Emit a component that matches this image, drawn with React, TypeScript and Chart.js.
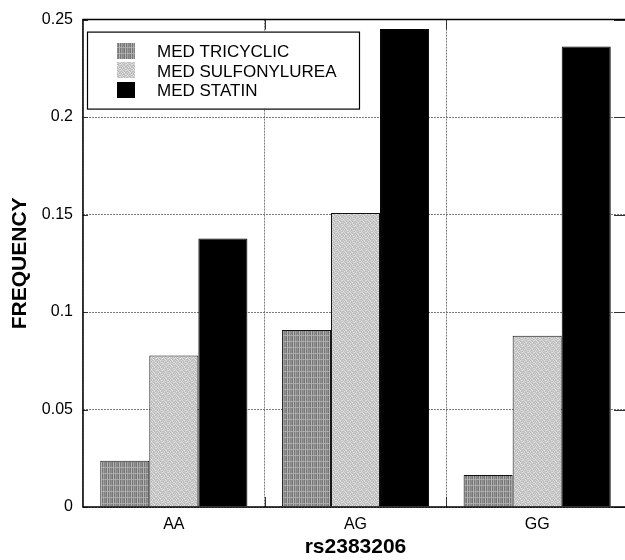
import React, { useEffect, useRef } from "react";
import { Chart, registerables } from "chart.js";

Chart.register(...registerables);

const categories = ["AA", "AG", "GG"];
const seriesLabels = ["MED TRICYCLIC", "MED SULFONYLUREA", "MED STATIN"];
const tricyclic = [0.0237, 0.0908, 0.0164];
const sulfonylurea = [0.0777, 0.1508, 0.0879];
const statin = [0.1377, 0.2452, 0.2362];
const yTickLabels = ["0", "0.05", "0.1", "0.15", "0.2", "0.25"];
const xTitle = "rs2383206";
const yTitle = "FREQUENCY";

const FONT = "'Liberation Sans', Arial, Helvetica, sans-serif";

function makePattern(colors: string[][]): CanvasPattern | string {
  const c = document.createElement("canvas");
  c.height = colors.length;
  c.width = colors[0].length;
  const ctx = c.getContext("2d");
  if (!ctx) return colors[0][0];
  for (let y = 0; y < colors.length; y++) {
    for (let x = 0; x < colors[y].length; x++) {
      ctx.fillStyle = colors[y][x];
      ctx.fillRect(x, y, 1, 1);
    }
  }
  const p = ctx.createPattern(c, "repeat");
  return p || colors[0][0];
}

export default function App() {
  const ref = useRef<HTMLCanvasElement | null>(null);

  useEffect(() => {
    if (!ref.current) return;
    const a = "#767676", b = "#a2a2a2", d = "#858585", e = "#8e8e8e", f = "#b4b4b4";
    const tricPattern = makePattern([
      [a, b, d, e, a, f],
      [a, b, d, e, a, f],
      [a, b, d, e, a, f],
      [a, b, d, e, a, f],
      [a, b, d, e, a, f],
      [b, f, b, f, b, f],
    ]);
    const g = "#c2c2c2", h = "#d6d6d6", i = "#b8b8b8", j = "#e2e2e2", k = "#cbcbcb";
    const sulfPattern = makePattern([
      [g, h, i, k, j, g],
      [k, i, j, g, h, i],
      [h, g, k, i, g, j],
      [i, j, g, h, k, g],
      [j, k, h, i, g, h],
      [g, i, k, j, i, k],
    ]);
    const fills = [tricPattern, sulfPattern, "#000000"];

    const framePlugin = {
      id: "frame",
      afterDraw(chart: any) {
        const { ctx, chartArea } = chart;
        const { left, right, top, bottom } = chartArea;
        const xs = chart.scales.x;
        const ys = chart.scales.y;
        ctx.save();
        ctx.strokeStyle = "#333";
        ctx.lineWidth = 1;
        ys.ticks.forEach((_t: any, idx: number) => {
          const y = Math.round(ys.getPixelForTick(idx)) + 0.5;
          ctx.beginPath();
          ctx.moveTo(left, y);
          ctx.lineTo(left + 5, y);
          ctx.moveTo(right - 14, y);
          ctx.lineTo(right, y);
          ctx.stroke();
        });
        for (let n = 1; n < categories.length; n++) {
          const x = Math.round((xs.getPixelForValue(n - 1) + xs.getPixelForValue(n)) / 2) + 0.5;
          ctx.beginPath();
          ctx.moveTo(x, top);
          ctx.lineTo(x, top + 10);
          ctx.moveTo(x, bottom);
          ctx.lineTo(x, bottom - 10);
          ctx.stroke();
        }
        ctx.strokeStyle = "#000";
        ctx.lineWidth = 1.5;
        ctx.beginPath();
        ctx.moveTo(right + 5, top);
        ctx.lineTo(left, top);
        ctx.lineTo(left, bottom);
        ctx.lineTo(right + 5, bottom);
        ctx.stroke();

        const bx = left + 4, by = top + 12, bw = 272, bh = 77;
        ctx.fillStyle = "#fff";
        ctx.fillRect(bx, by, bw, bh);
        ctx.strokeStyle = "#000";
        ctx.lineWidth = 1.2;
        ctx.strokeRect(bx + 0.5, by + 0.5, bw, bh);
        ctx.font = `17px ${FONT}`;
        ctx.textBaseline = "alphabetic";
        ctx.textAlign = "left";
        chart.data.datasets.forEach((ds: any, idx: number) => {
          const baseline = by + 25.7 + idx * 19.3;
          const cy = baseline - 6.3;
          ctx.fillStyle = ds.backgroundColor;
          ctx.fillRect(bx + 30, Math.round(cy - 8), 18, 16);
          ctx.fillStyle = "#000";
          ctx.fillText(ds.label, bx + 70, baseline);
        });
        ctx.restore();
      },
    };

    const chart = new Chart(ref.current, {
      type: "bar",
      data: {
        labels: categories,
        datasets: [
          { label: seriesLabels[0], data: tricyclic, backgroundColor: fills[0] as any, borderColor: "#111", borderWidth: 1 },
          { label: seriesLabels[1], data: sulfonylurea, backgroundColor: fills[1] as any, borderColor: "#111", borderWidth: 1 },
          { label: seriesLabels[2], data: statin, backgroundColor: fills[2] as any, borderColor: "#000", borderWidth: 1 },
        ],
      },
      options: {
        animation: false,
        responsive: true,
        maintainAspectRatio: false,
        layout: { padding: { top: 18, right: 72, left: 0, bottom: 0 } },
        plugins: { legend: { display: false }, tooltip: { enabled: false } },
        datasets: { bar: { categoryPercentage: 0.81, barPercentage: 1 } },
        scales: {
          x: {
            afterFit: (s: any) => { s.height = 53; },
            grid: {
              display: true,
              color: (c: any) => (c.tick === undefined ? "rgba(0,0,0,0)" : "#7a7a7a"),
              lineWidth: 1,
              drawTicks: false,
              offset: true,
            },
            border: { display: false, dash: [2, 1] },
            ticks: { color: "#000", font: { family: FONT, size: 16 }, padding: 8 },
            title: { display: true, text: xTitle, color: "#000", font: { family: FONT, size: 21, weight: "bold" }, padding: { top: 0, bottom: 0 } },
          },
          y: {
            min: 0,
            max: 0.25,
            afterFit: (s: any) => { s.width = 83; },
            grid: { display: true, color: "#7a7a7a", lineWidth: 1, drawTicks: false },
            border: { display: false, dash: [2, 1] },
            ticks: {
              stepSize: 0.05,
              color: "#000",
              font: { family: FONT, size: 16 },
              padding: 10,
              callback: (_v: any, idx: number) => yTickLabels[idx],
            },
            title: { display: true, text: yTitle, color: "#000", font: { family: FONT, size: 21, weight: "bold" }, padding: { top: 8, bottom: 0 } },
          },
        },
      },
      plugins: [framePlugin],
    });
    return () => chart.destroy();
  }, []);

  return (
    <div style={{ position: "fixed", left: 0, top: 0, width: 625, height: 560, overflow: "hidden", background: "#fff" }}>
      <div style={{ position: "relative", width: 700, height: 560 }}>
        <canvas ref={ref} />
      </div>
    </div>
  );
}
